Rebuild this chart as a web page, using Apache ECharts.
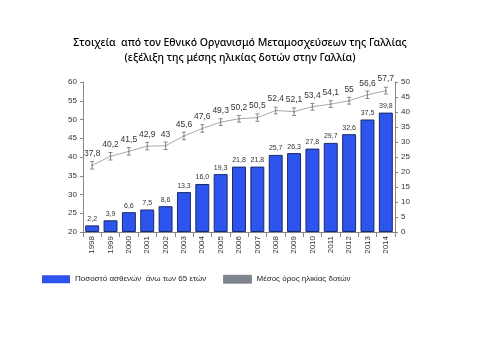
<!DOCTYPE html>
<html><head><meta charset="utf-8">
<script src="https://cdn.jsdelivr.net/npm/echarts@6/dist/echarts.min.js"></script>
<style>html,body{margin:0;padding:0;background:#fff}#c{width:480px;height:360px}</style>
</head><body><div id="c"></div>
<script>
const years = ['1998','1999','2000','2001','2002','2003','2004','2005','2006','2007','2008','2009','2010','2011','2012','2013','2014'];
const pctOver65 = [2.2,3.9,6.6,7.5,8.6,13.3,16.0,19.3,21.8,21.8,25.7,26.3,27.8,29.7,32.6,37.5,39.8];
const meanAge = [37.8,40.2,41.5,42.9,43,45.6,47.6,49.3,50.2,50.5,52.4,52.1,53.4,54.1,55,56.6,57.7];
const ageErr = [1,1,1,1,1,1,1,0.9,0.9,1,0.9,1,0.9,0.9,0.9,1,0.9];
const fmt = v => String(v).replace('.', ',');
const barFmt = v => (Number.isInteger(v)? v.toFixed(1): String(v)).replace('.', ',');

const chart = echarts.init(document.getElementById('c'));
chart.setOption({
  animation:false,
  title:{text:'Στοιχεία  από τον Εθνικό Οργανισμό Μεταμοσχεύσεων της Γαλλίας\n(εξέλιξη της μέσης ηλικίας δοτών στην Γαλλία)',
    left:'center', top:31, textStyle:{fontFamily:'Noto Sans', fontSize:10.5, fontWeight:500, color:'#000', lineHeight:15}},
  legend:{left:37, top:270, itemWidth:28, itemHeight:8, itemGap:17, icon:'rect',
    textStyle:{fontFamily:'Liberation Sans', fontSize:8, color:'#222'},
    data:[{name:'Ποσοστό ασθενών  άνω των 65 ετών', itemStyle:{color:'#2d55ee', borderWidth:0}},
          {name:'Μέσος όρος ηλικίας δοτών', itemStyle:{color:'#7f8590', borderColor:'#555', borderWidth:0.5}}]},
  grid:{left:83, right:85, top:82, bottom:128},
  xAxis:{type:'category', data:years, axisLine:{lineStyle:{color:'#888'}},
    axisTick:{show:true, alignWithLabel:false, lineStyle:{color:'#888'}},
    axisLabel:{rotate:90, fontSize:8, fontFamily:'Liberation Sans', color:'#333', interval:0, margin:4}},
  yAxis:[
    {type:'value', min:20, max:60, interval:5, position:'left', splitLine:{show:false},
      axisLine:{show:true, lineStyle:{color:'#888'}}, axisTick:{show:true, length:3, lineStyle:{color:'#888'}},
      axisLabel:{fontSize:8, fontFamily:'Liberation Sans', color:'#333', margin:6}},
    {type:'value', min:0, max:50, interval:5, position:'right', splitLine:{show:false},
      axisLine:{show:true, lineStyle:{color:'#888'}}, axisTick:{show:true, length:3, lineStyle:{color:'#888'}},
      axisLabel:{fontSize:8, fontFamily:'Liberation Sans', color:'#333', margin:6}}
  ],
  series:[
    {name:'Ποσοστό ασθενών  άνω των 65 ετών', type:'bar', yAxisIndex:1, data:pctOver65, barCategoryGap:'24%',
      itemStyle:{color:'#2d55ee', borderColor:'#1a2a6a', borderWidth:1},
      label:{show:true, position:'top', fontSize:7, fontFamily:'Liberation Sans', color:'#333', distance:3,
        formatter:p=>barFmt(p.value)}},
    {name:'Μέσος όρος ηλικίας δοτών', type:'line', yAxisIndex:0, data:meanAge, symbol:'circle', symbolSize:2,
      lineStyle:{color:'#a8a8a8', width:1}, itemStyle:{color:'#999'},
      label:{show:true, position:'top', fontSize:8.5, fontFamily:'Liberation Sans', color:'#333', distance:6,
        formatter:p=>fmt(p.value)}},
    {type:'custom', yAxisIndex:0, silent:true, z:5,
      data:meanAge.map((v,i)=>[i, v-ageErr[i], v+ageErr[i]]),
      renderItem:(params, api)=>{
        const lo = api.coord([api.value(0), api.value(1)]);
        const hi = api.coord([api.value(0), api.value(2)]);
        const w = 2;
        const st = {stroke:'#888', lineWidth:1};
        return {type:'group', children:[
          {type:'line', shape:{x1:lo[0], y1:lo[1], x2:hi[0], y2:hi[1]}, style:st},
          {type:'line', shape:{x1:lo[0]-w, y1:lo[1], x2:lo[0]+w, y2:lo[1]}, style:st},
          {type:'line', shape:{x1:hi[0]-w, y1:hi[1], x2:hi[0]+w, y2:hi[1]}, style:st}
        ]};
      }}
  ]
});
</script></body></html>
